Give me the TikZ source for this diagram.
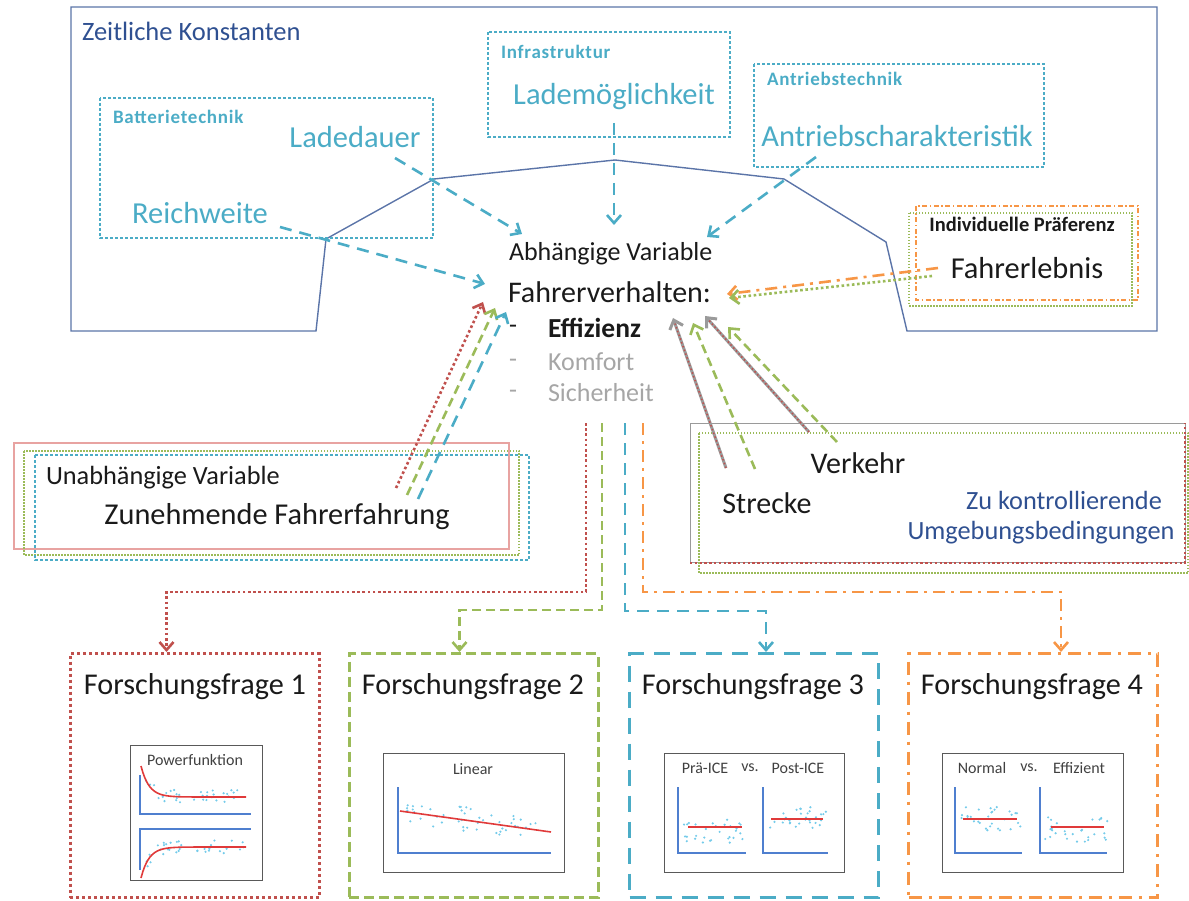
\documentclass[tikz,border=0pt]{standalone}
\usepackage{fontspec}
\setmainfont{Carlito}
\usetikzlibrary{arrows.meta,calc}

\definecolor{cyanA}{HTML}{4BACC6}
\definecolor{greenA}{HTML}{9BBB59}
\definecolor{redA}{HTML}{C0504D}
\definecolor{redL}{HTML}{E8A3A1}
\definecolor{orangeA}{HTML}{F79646}
\definecolor{frameB}{HTML}{5B74A8}
\definecolor{titleB}{HTML}{2F5091}
\definecolor{grayT}{HTML}{A6A6A6}
\definecolor{grayL}{HTML}{9A9A9A}
\definecolor{dotC}{HTML}{74CBEA}
\definecolor{axisB}{HTML}{4F7FCF}
\definecolor{fitR}{HTML}{E03A3A}
\definecolor{inkK}{HTML}{1A1A1A}

\newcommand\fsz[1]{\fontsize{#1}{#1}\selectfont}
\newcommand\grouplabel{\bfseries\fsz{19}\addfontfeatures{LetterSpace=4}}

\begin{document}
\begin{tikzpicture}[x=1pt,y=-1pt,
  txt/.style={inner sep=0pt, outer sep=0pt, text=inkK},
  tip/.style={-{Straight Barb[length=8pt,width=14pt]}},
  cyanline/.style={cyanA, line width=2.6pt, dash pattern=on 12pt off 8pt},
  reddot/.style={redA, line width=2.6pt, dash pattern=on 2.6pt off 2.6pt},
  greendash/.style={greenA, line width=2.6pt, dash pattern=on 9pt off 5pt},
  greendot/.style={greenA, line width=2.6pt, dash pattern=on 2.6pt off 2.6pt},
  orangedd/.style={orangeA, line width=2.6pt, dash pattern=on 12pt off 6pt on 3pt off 6pt},
  grayred/.style={grayL, line width=3pt},
  groupbox/.style={cyanA, line width=1.1pt, dash pattern=on 3pt off 2pt},
  qbox/.style={draw, line width=3pt, minimum width=249pt, minimum height=244pt, inner sep=0pt},
  frame/.style={draw=black!65, line width=1pt},
  axis/.style={axisB, line width=1.3pt},
  fit/.style={fitR, line width=1.6pt},
  ptitle/.style={txt, text=black!75, font=\fsz{16}},
]
\useasboundingbox (0,0) rectangle (1189,901);

% ---------- time-invariant frame with notch ----------
\draw[frameB, line width=1.4pt] (71,7) -- (1157,7) -- (1157,331) -- (907,331)
  -- (886,242) -- (784,179) -- (615,160) -- (434,179) -- (326,239)
  -- (316,331) -- (71,331) -- cycle;
\node[txt, text=titleB, font=\fsz{26.5}, anchor=west] (zk) at (82,31) {Zeitliche Konstanten};

% group boxes
\draw[groupbox] (100,98) rectangle (433,238);
\draw[groupbox] (488,32) rectangle (730,137);
\draw[groupbox] (754,64) rectangle (1044,167);
\node[txt, text=cyanA, font=\grouplabel, anchor=west] (bt) at (113,117) {Batterietechnik};
\node[txt, text=cyanA, font=\grouplabel, anchor=west] (inf) at (501,52) {Infrastruktur};
\node[txt, text=cyanA, font=\grouplabel, anchor=west] (ant) at (767,79) {Antriebstechnik};

\node[txt, text=cyanA, font=\fsz{30.5}] (ladedauer) at (355,137) {Ladedauer};
\node[txt, text=cyanA, font=\fsz{30.5}] (reichweite) at (200,213) {Reichweite};
\node[txt, text=cyanA, font=\fsz{30.5}] (lademoegl) at (614,97) {Lademöglichkeit};
\node[txt, text=cyanA, font=\fsz{30.5}] (antrieb) at (897,136) {Antriebscharakteristik};

% individual preference
\draw[orangeA, line width=1.3pt, dash pattern=on 5pt off 2.5pt on 1.5pt off 2.5pt] (916,206) rectangle (1138,300);
\draw[greenA, line width=1.2pt, dash pattern=on 1.5pt off 1.5pt] (909,213) rectangle (1132,306);
\node[txt, font=\bfseries\fsz{20.5}] (praef) at (1022,224) {Individuelle Präferenz};
\node[txt, font=\fsz{30.4}] (erlebnis) at (1027,268) {Fahrerlebnis};

% ---------- dependent variable ----------
\node[txt, font=\fsz{26}, anchor=west] (abh) at (509,254) {Abhängige Variable};
\node[txt, font=\fsz{30}, anchor=west] (fv) at (508,292) {Fahrerverhalten:};
\node[txt, font=\fsz{26}] (d1) at (513,329) {-};
\node[txt, font=\bfseries\fsz{27.5}, anchor=west] (eff) at (548,328) {Effizienz};
\node[txt, text=grayT, font=\fsz{26}] (d2) at (513,363) {-};
\node[txt, text=grayT, font=\fsz{26}, anchor=west] (komf) at (548,362) {Komfort};
\node[txt, text=grayT, font=\fsz{26}] (d3) at (513,394) {-};
\node[txt, text=grayT, font=\fsz{26}, anchor=west] (sich) at (548,393) {Sicherheit};

% ---------- independent variable ----------
\draw[redL, line width=1.1pt] (14,443) rectangle (509,549);
\draw[greenA, line width=1.2pt, dash pattern=on 1.5pt off 1.5pt] (24,451) rectangle (519,555);
\draw[cyanA, line width=1.2pt, dash pattern=on 3pt off 2pt] (35,455) rectangle (529,560);
\node[txt, font=\fsz{26.3}, anchor=west] (uv) at (46,478) {Unabhängige Variable};
\node[txt, font=\fsz{30.3}] (zf) at (277,517) {Zunehmende Fahrerfahrung};

% ---------- controlled conditions ----------
\draw[grayL, line width=1pt] (690,423) rectangle (1185,562);
\draw[greenA, line width=1.2pt, dash pattern=on 1.5pt off 1.5pt] (699,433) rectangle (1188,573);
\draw[redA, line width=2.4pt, dash pattern=on 2.4pt off 2.4pt] (690,563) -- (1185,563) -- (1185,423);
\node[txt, font=\fsz{30}] (verkehr) at (858,463) {Verkehr};
\node[txt, font=\fsz{30}] (strecke) at (767,503) {Strecke};
\node[txt, text=titleB, font=\fsz{26.3}] (zuk) at (1064,500) {Zu kontrollierende};
\node[txt, text=titleB, font=\fsz{26.3}] (umg) at (1041,533) {Umgebungsbedingungen};

% ---------- arrows into the dependent variable ----------
\coordinate (ladedauer-s) at (395,158);  \coordinate (ladedauer-e) at (522,234);
\coordinate (lademoegl-s) at (614,123);  \coordinate (lademoegl-e) at (614,225);
\coordinate (antrieb-s) at (816,157);    \coordinate (antrieb-e) at (707,237);
\coordinate (reichweite-s) at (280,227); \coordinate (reichweite-e) at (485,284);
\draw[cyanline, tip] (ladedauer-s) -- (ladedauer-e);
\draw[cyanline, tip] (lademoegl-s) -- (lademoegl-e);
\draw[cyanline, tip] (antrieb-s) -- (antrieb-e);
\draw[cyanline, tip] (reichweite-s) -- (reichweite-e);

\coordinate (erl-o) at (938,268); \coordinate (fv-o) at (727,294);
\coordinate (erl-g) at (932,276); \coordinate (fv-g) at (729,298);
\draw[orangedd, tip] (erl-o) -- (fv-o);
\draw[greendot, tip] (erl-g) -- (fv-g);

\coordinate (zf-r) at (396,488); \coordinate (fv-r1) at (483,302);
\coordinate (zf-g) at (407,495); \coordinate (fv-g1) at (495,308);
\coordinate (zf-c) at (418,499); \coordinate (fv-c1) at (506,312);
\draw[reddot, tip] (zf-r) -- (fv-r1);
\draw[greendash, tip] (zf-g) -- (fv-g1);
\draw[cyanline, tip] (zf-c) -- (fv-c1);

\coordinate (str-r) at (726,468); \coordinate (eff-r1) at (673,318);
\coordinate (str-g) at (755,469); \coordinate (eff-g1) at (693,323);
\coordinate (ver-r) at (809,432); \coordinate (eff-r2) at (705,316);
\coordinate (ver-g) at (837,442); \coordinate (eff-g2) at (728,327);
\draw[grayred, tip] (str-r) -- (eff-r1);
\draw[redA, line width=1.5pt, dash pattern=on 1.5pt off 2.5pt, shorten >=6pt] (str-r) -- (eff-r1);
\draw[grayred, tip] (ver-r) -- (eff-r2);
\draw[redA, line width=1.5pt, dash pattern=on 1.5pt off 2.5pt, shorten >=6pt] (ver-r) -- (eff-r2);
\draw[greendash, tip] (str-g) -- (eff-g1);
\draw[greendash, tip] (ver-g) -- (eff-g2);

% ---------- research questions ----------
\node[qbox, draw=redA, dash pattern=on 3pt off 3pt] (q1) at (194.5,775.5) {};
\node[qbox, draw=greenA, dash pattern=on 10pt off 5pt] (q2) at (473.5,775.5) {};
\node[qbox, draw=cyanA, dash pattern=on 16pt off 10pt] (q3) at (754,775.5) {};
\node[qbox, draw=orangeA, dash pattern=on 13pt off 7pt on 3pt off 7pt] (q4) at (1033,775.5) {};

\node[txt, font=\fsz{30.2}] (q1t) at (195,687) {Forschungsfrage 1};
\node[txt, font=\fsz{30.2}] (q2t) at (473,687) {Forschungsfrage 2};
\node[txt, font=\fsz{30.2}] (q3t) at (753,687) {Forschungsfrage 3};
\node[txt, font=\fsz{30.2}] (q4t) at (1032,687) {Forschungsfrage 4};

\coordinate (out-r) at (586,423);
\coordinate (out-g) at (602,423);
\coordinate (out-c) at (625,423);
\coordinate (out-o) at (643,423);
\draw[reddot, tip] (out-r) -- (586,592) -| ([xshift=-28pt]q1.north);
\draw[greendash, tip] (out-g) -- (602,610) -| ([xshift=-14pt]q2.north);
\draw[cyanline, tip] (out-c) -- (625,611) -| ([xshift=12pt]q3.north);
\draw[orangedd, tip] (out-o) -- (643,592) -| ([xshift=28pt]q4.north);

% ---------- thumbnail 1: power function ----------
\draw[frame] (130,745) rectangle (262,880);
\node[ptitle] (p1t) at (195,760) {Powerfunktion};
\draw[axis] (140,775) -- (140,814) -- (251,814);
\draw[axis] (140,870) -- (140,829) -- (251,829);
\pgfmathsetseed{11}
\foreach \i in {1,...,34}{
  \pgfmathsetmacro\px{146+100*rnd}
  \pgfmathsetmacro\py{797-30*exp(-(\px-141)/8)+7*rand}
  \fill[dotC] (\px,\py) circle (1.2pt);
  \pgfmathsetmacro\qx{146+100*rnd}
  \pgfmathsetmacro\qy{847+31*exp(-(\qx-141)/8)+7*rand}
  \fill[dotC] (\qx,\qy) circle (1.2pt);
}
\draw[fit] plot[domain=141:246, samples=60] (\x,{797-31*exp(-(\x-141)/8)});
\draw[fit] plot[domain=141:246, samples=60] (\x,{847+31*exp(-(\x-141)/8)});

% ---------- thumbnail 2: linear ----------
\draw[frame] (383,753) rectangle (564,872);
\node[ptitle] (p2t) at (473,769) {Linear};
\draw[axis] (398,787) -- (398,853) -- (551,853);
\pgfmathsetseed{23}
\foreach \i in {1,...,48}{
  \pgfmathsetmacro\px{406+132*rnd}
  \pgfmathsetmacro\py{811+(\px-400)*0.139+13*rand}
  \fill[dotC] (\px,\py) circle (1.2pt);
}
\draw[fit] (400,811) -- (551,832);

% ---------- thumbnail 3: pre / post ----------
\draw[frame] (664,753) rectangle (844,872);
\node[ptitle] (p3a) at (705,768) {Prä-ICE};
\node[ptitle] (p3v) at (750,768) {vs.};
\node[ptitle] (p3b) at (798,768) {Post-ICE};
\draw[axis] (678,787) -- (678,853) -- (746,853);
\draw[axis] (763,787) -- (763,853) -- (828,853);
\pgfmathsetseed{37}
\foreach \i in {1,...,30}{
  \pgfmathsetmacro\px{684+60*rnd}
  \pgfmathsetmacro\py{831+13*rand}
  \fill[dotC] (\px,\py) circle (1.2pt);
  \pgfmathsetmacro\qx{768+60*rnd}
  \pgfmathsetmacro\qy{818+11*rand}
  \fill[dotC] (\qx,\qy) circle (1.2pt);
}
\draw[fit] (688,827) -- (742,827);
\draw[fit] (771,819) -- (823,819);

% ---------- thumbnail 4: normal / efficient ----------
\draw[frame] (942,753) rectangle (1123,872);
\node[ptitle] (p4a) at (982,768) {Normal};
\node[ptitle] (p4v) at (1029,768) {vs.};
\node[ptitle] (p4b) at (1079,768) {Effizient};
\draw[axis] (955,787) -- (955,853) -- (1022,853);
\draw[axis] (1040,787) -- (1040,853) -- (1107,853);
\pgfmathsetseed{51}
\foreach \i in {1,...,30}{
  \pgfmathsetmacro\px{960+62*rnd}
  \pgfmathsetmacro\py{819+12*rand}
  \fill[dotC] (\px,\py) circle (1.2pt);
  \pgfmathsetmacro\qx{1045+63*rnd}
  \pgfmathsetmacro\qy{830+13*rand}
  \fill[dotC] (\qx,\qy) circle (1.2pt);
}
\draw[fit] (963,819) -- (1017,819);
\draw[fit] (1051,827) -- (1104,827);
\end{tikzpicture}
\end{document}
